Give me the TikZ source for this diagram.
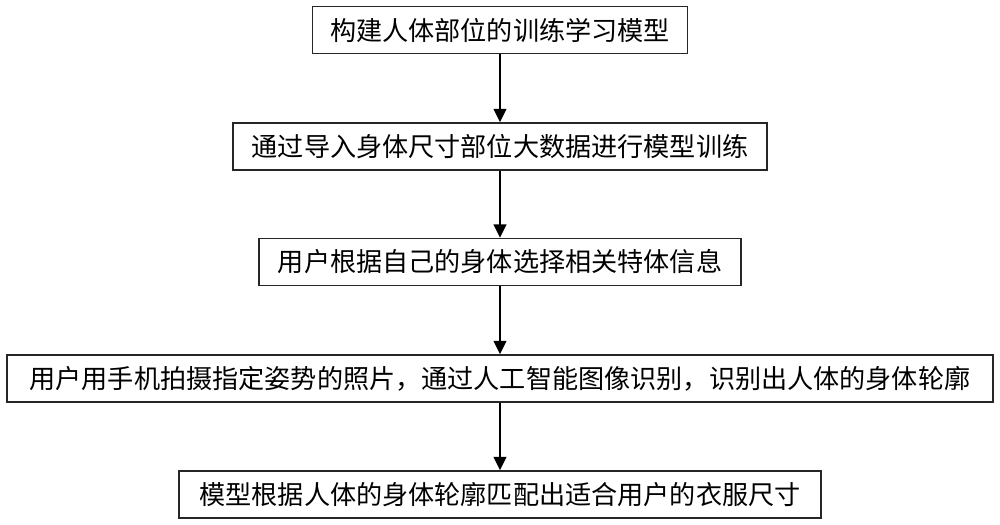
\documentclass[tikz,border=0pt]{standalone}
\usepackage{fontspec}
\newfontfamily\cjk{Noto Sans CJK SC}
\usetikzlibrary{arrows.meta}
\begin{document}
\begin{tikzpicture}[x=0.75pt,y=-0.75pt,
  stepbox/.style={draw=black!85, line width=1.3pt, minimum height=35.25pt, inner sep=0pt,
    font=\cjk\fontsize{19.6pt}{22pt}\selectfont, text=black, anchor=center},
  flow/.style={line width=1.5pt, black, -{Triangle[width=9.5pt,length=10pt]}}]
\useasboundingbox (0,0) rectangle (1000,525);
\node[stepbox, minimum width=281.25pt] (b1) at (500,30) {构建人体部位的训练学习模型};
\node[stepbox, minimum width=400.5pt] (b2) at (500,146.5) {通过导入身体尺寸部位大数据进行模型训练};
\node[stepbox, minimum width=361.5pt] (b3) at (500,262) {用户根据自己的身体选择相关特体信息};
\node[stepbox, minimum width=739.5pt] (b4) at (500,378.5) {用户用手机拍摄指定姿势的照片，通过人工智能图像识别，识别出人体的身体轮廓};
\node[stepbox, minimum width=481.5pt] (b5) at (500,494.5) {模型根据人体的身体轮廓匹配出适合用户的衣服尺寸};
\draw[flow] (b1.south) -- (b2.north);
\draw[flow] (b2.south) -- (b3.north);
\draw[flow] (b3.south) -- (b4.north);
\draw[flow] (b4.south) -- (b5.north);
\end{tikzpicture}
\end{document}
